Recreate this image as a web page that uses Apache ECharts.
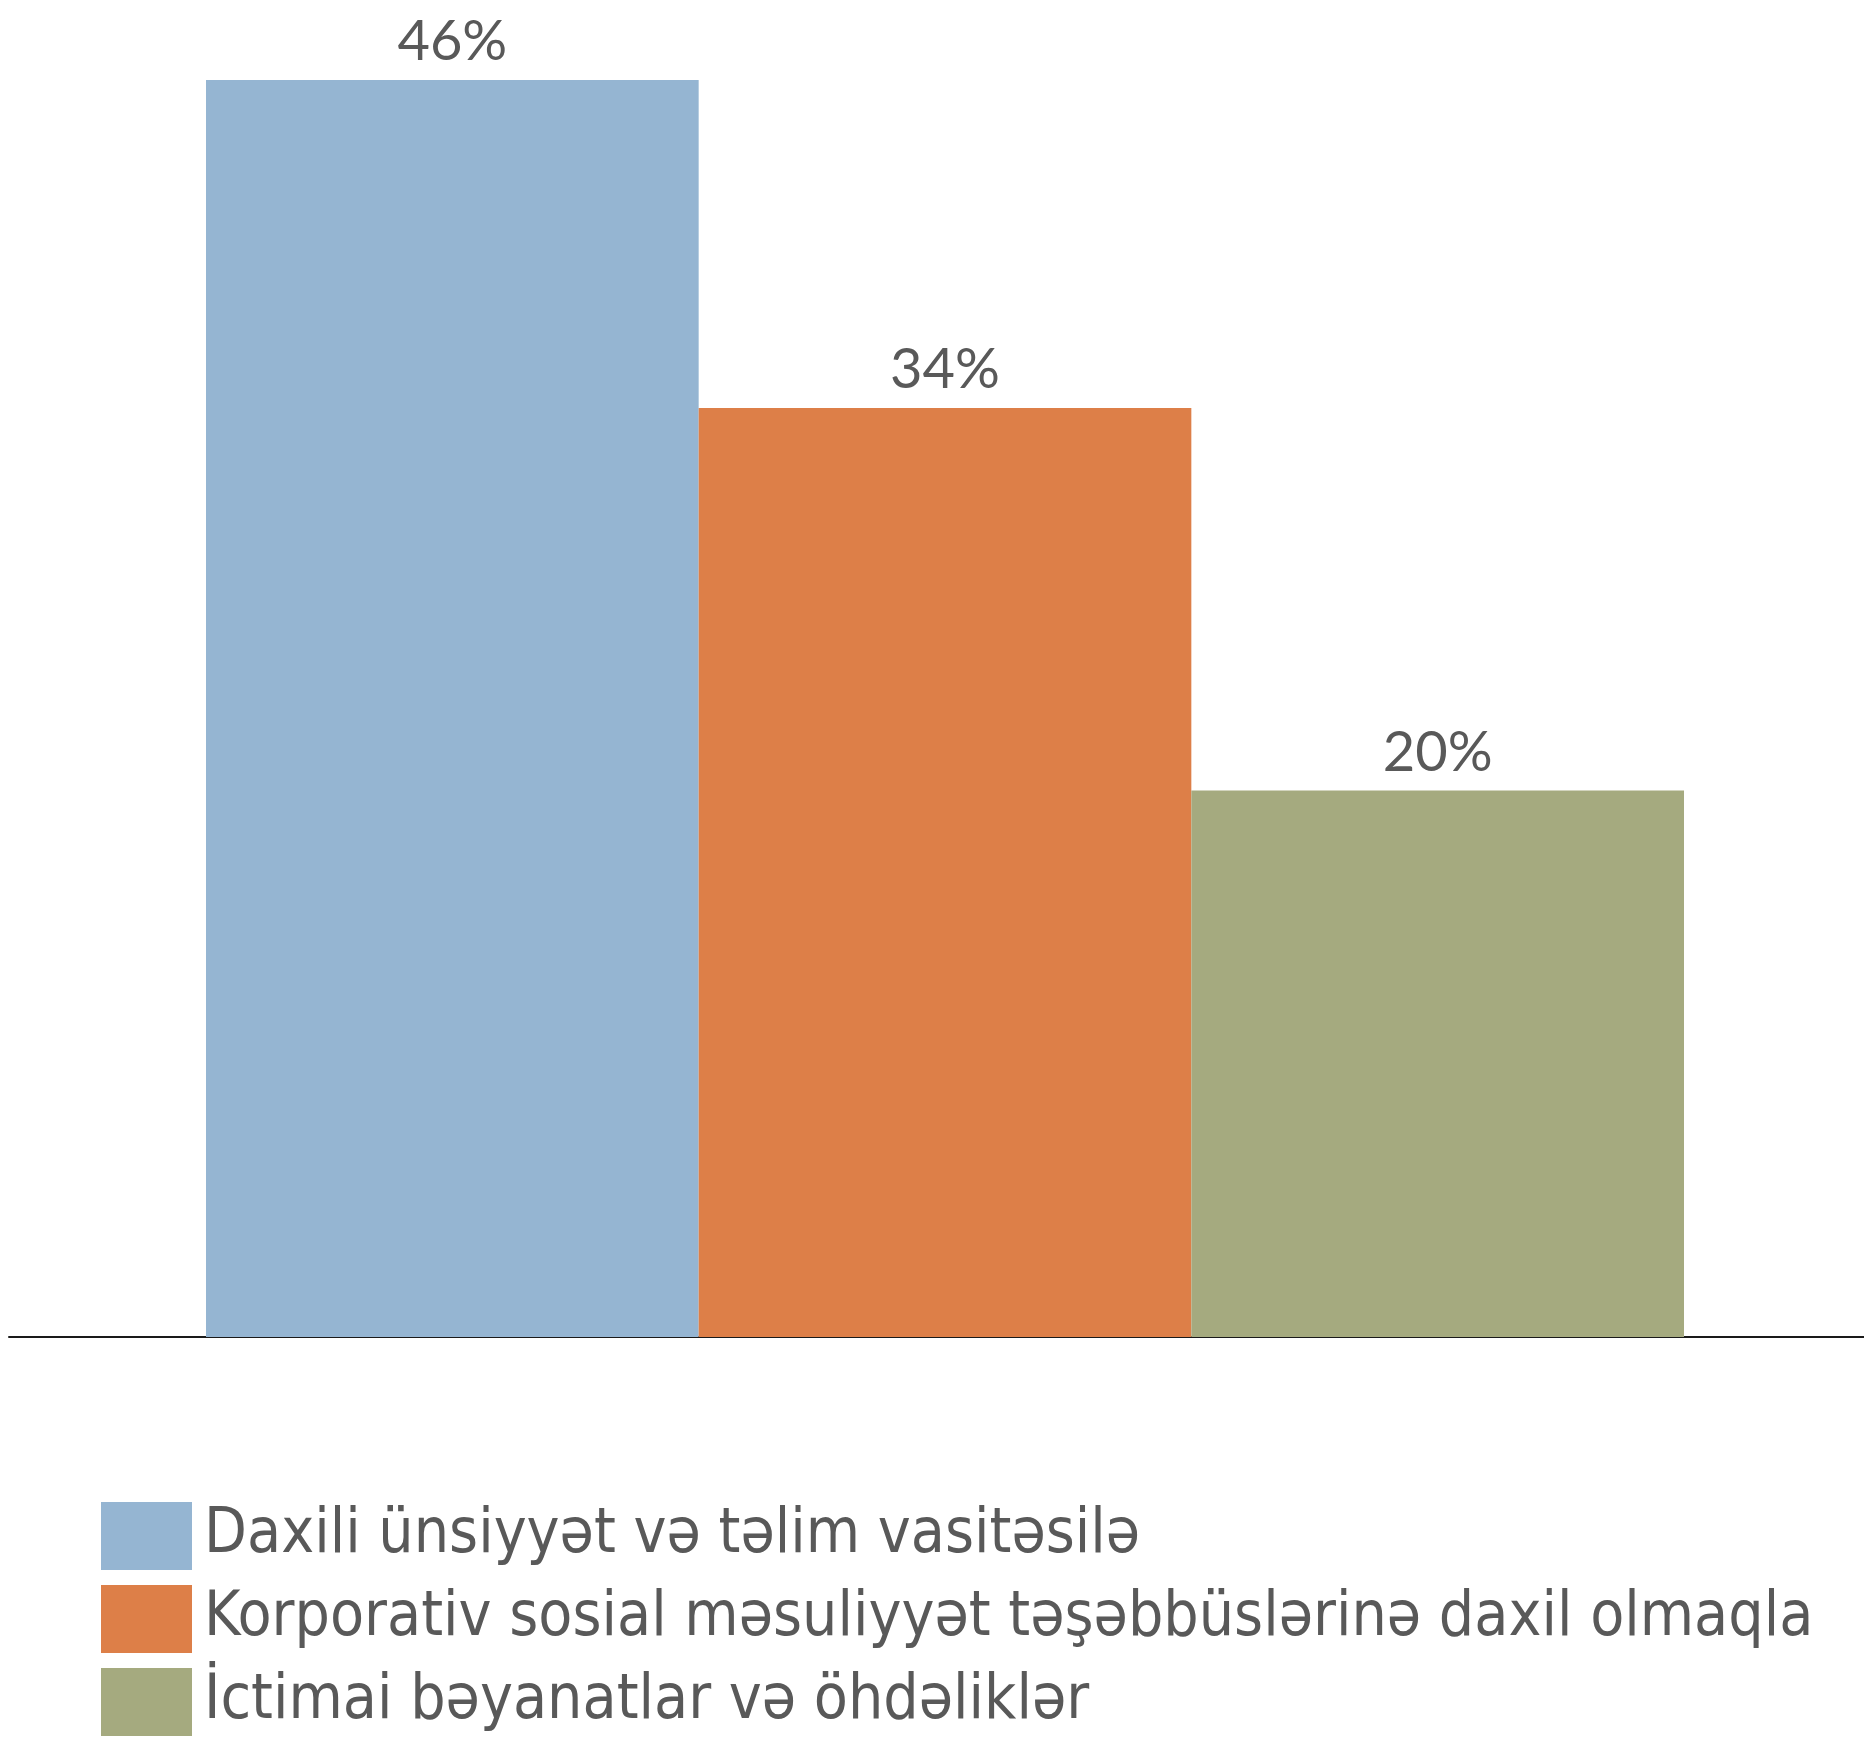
<!DOCTYPE html>
<html>
<head>
<meta charset="utf-8">
<style>
  html, body { margin: 0; padding: 0; background: #ffffff; }
  #chart { width: 1864px; height: 1738px; }
</style>
<script src="https://cdn.jsdelivr.net/npm/echarts@6/dist/echarts.min.js"></script>
</head>
<body>
<div id="chart"></div>
<script>
// Share of companies by channel of engagement (percent)
const categories = ['Kanal'];
const seriesNames = [
  'Daxili ünsiyyət və təlim vasitəsilə',
  'Korporativ sosial məsuliyyət təşəbbüslərinə daxil olmaqla',
  'İctimai bəyanatlar və öhdəliklər'
];
const seriesValues = [46, 34, 20];
const seriesColors = ['#95B5D2', '#DD7F48', '#A5AA7F'];

const chart = echarts.init(document.getElementById('chart'), null, { renderer: 'canvas' });

const series = seriesNames.map((name, i) => ({
  name: name,
  type: 'bar',
  xAxisIndex: 0,
  yAxisIndex: 0,
  data: [seriesValues[i]],
  barGap: '0%',
  barCategoryGap: '0%',
  itemStyle: { color: seriesColors[i] },
  label: {
    show: true,
    position: 'top',
    distance: 10,
    formatter: '{c}%',
    fontFamily: 'Lato',
    fontSize: 56,
    color: '#595959'
  }
}));

chart.setOption({
  animation: false,
  backgroundColor: '#ffffff',
  grid: [
    { left: 206, right: 180, top: 80, bottom: 401, containLabel: false },
    { left: 9, right: 0, top: 80, bottom: 401, containLabel: false }
  ],
  xAxis: [
    {
      type: 'category', gridIndex: 0, data: categories,
      axisLine: { show: false }, axisTick: { show: false }, axisLabel: { show: false }
    },
    {
      type: 'category', gridIndex: 1, data: categories,
      axisLine: { show: true, lineStyle: { color: '#1a1a1a', width: 2 } },
      axisTick: { show: false }, axisLabel: { show: false }
    }
  ],
  yAxis: [
    {
      type: 'value', gridIndex: 0, min: 0, max: 'dataMax',
      axisLine: { show: false }, axisTick: { show: false }, axisLabel: { show: false },
      splitLine: { show: false }
    },
    {
      type: 'value', gridIndex: 1, min: 0, max: 'dataMax',
      axisLine: { show: false }, axisTick: { show: false }, axisLabel: { show: false },
      splitLine: { show: false }
    }
  ],
  legend: {
    orient: 'vertical',
    left: 101,
    top: 1502,
    padding: 0,
    icon: 'rect',
    itemWidth: 91,
    itemHeight: 68,
    itemGap: 15,
    selectedMode: false,
    data: seriesNames,
    textStyle: {
      fontFamily: 'DejaVu Sans Condensed',
      fontSize: 62,
      lineHeight: 68,
      color: '#595959',
      padding: [0, 0, 0, 7]
    }
  },
  series: series
});
</script>
</body>
</html>
